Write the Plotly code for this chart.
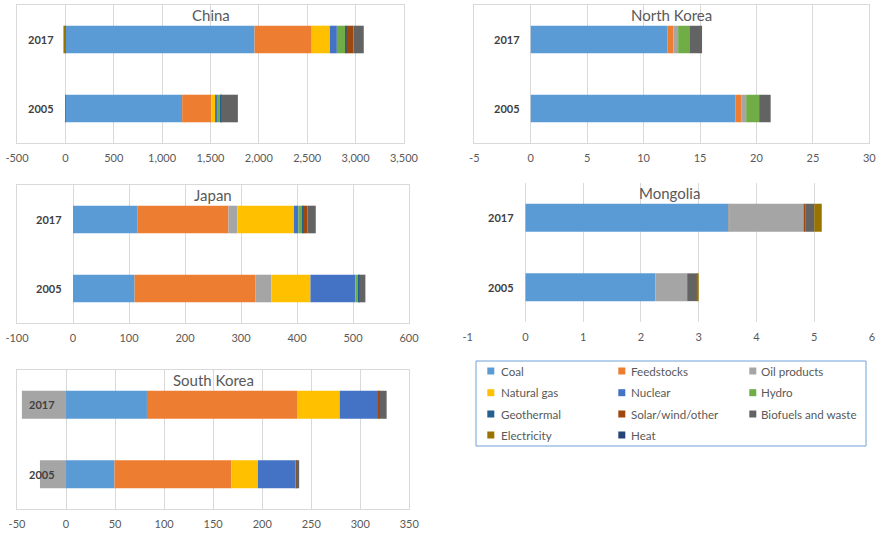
import plotly.graph_objects as go

# ---------------- data ----------------
YEARS = ["2005", "2017"]
SOURCES = ["Coal", "Feedstocks", "Oil products", "Natural gas", "Nuclear", "Hydro",
           "Geothermal", "Solar/wind/other", "Biofuels and waste", "Electricity", "Heat"]

CHINA_2005 = [1207, 301, 0, 42, 17, 40, 2, 3, 171, -3, 0]
CHINA_2017 = [1955, 591, 0, 188, 72, 93, 8, 71, 106, -20, 0]
NKOREA_2005 = [18.15, 0.5, 0.44, 0, 0, 1.15, 0, 0, 1.02, 0, 0]
NKOREA_2017 = [12.1, 0.55, 0.41, 0, 0, 1.0, 0, 0, 1.12, 0, 0]
JAPAN_2005 = [110, 216, 28, 70, 80.4, 6, 1.2, 0.5, 10, 0, 0]
JAPAN_2017 = [115.5, 162, 16, 101, 8, 8, 1, 7, 15, 0, 0]
MONGOLIA_2005 = [2.25, 0, 0.55, 0, 0, 0, 0, 0, 0.18, 0.01, 0]
MONGOLIA_2017 = [3.52, 0.01, 1.29, 0, 0, 0, 0, 0.03, 0.15, 0.13, 0]
SKOREA_2005 = [49.4, 119, -26.6, 27.3, 38.5, 0.3, 0, 0.5, 2.7, 0, 0]
SKOREA_2017 = [82.5, 153, -45, 43.6, 39, 0.3, 0, 1.5, 7, 0, 0]

CHINA_TICKS = [-500, 0, 500, 1000, 1500, 2000, 2500, 3000, 3500]
NKOREA_TICKS = [-5, 0, 5, 10, 15, 20, 25, 30]
JAPAN_TICKS = [-100, 0, 100, 200, 300, 400, 500, 600]
MONGOLIA_TICKS = [-1, 0, 1, 2, 3, 4, 5, 6]
SKOREA_TICKS = [-50, 0, 50, 100, 150, 200, 250, 300, 350]

# ---------------- styles ----------------
COLORS = ["#5B9BD5", "#ED7D31", "#A5A5A5", "#FFC000", "#4472C4", "#70AD47",
          "#255E91", "#9E480E", "#636363", "#997300", "#264478"]
W, H = 880, 533
FONT = "Lato"
GRID = "#D9D9D9"
TXT = "#595959"


def px(x):
    return x / W


def py(y):
    return 1 - y / H


# name, v2005, v2017, ticks, (x0,x1,ytop,ybottom) in pixels, framed
PANELS = [
    ("China", CHINA_2005, CHINA_2017, CHINA_TICKS, (17, 404, 5, 143), True),
    ("North Korea", NKOREA_2005, NKOREA_2017, NKOREA_TICKS, (474.3, 869.3, 5, 143), True),
    ("Japan", JAPAN_2005, JAPAN_2017, JAPAN_TICKS, (17, 409, 185, 323), True),
    ("Mongolia", MONGOLIA_2005, MONGOLIA_2017, MONGOLIA_TICKS, (467.7, 872, 183, 322), False),
    ("South Korea", SKOREA_2005, SKOREA_2017, SKOREA_TICKS, (17, 409.3, 370, 509), True),
]


def fmt(v):
    return f"{v:,}"


fig = go.Figure()
layout = dict(
    template="none",
    width=W, height=H, margin=dict(l=0, r=0, t=0, b=0, autoexpand=False),
    paper_bgcolor="white", plot_bgcolor="white",
    barmode="relative", bargap=0.6, showlegend=False,
    font=dict(family=FONT, color=TXT),
)
annotations = []
shapes = []

for i, (name, v05, v17, ticks, (x0, x1, yt, yb), framed) in enumerate(PANELS, start=1):
    sfx = "" if i == 1 else str(i)
    xa, ya = f"x{sfx}", f"y{sfx}"
    for j, src in enumerate(SOURCES):
        fig.add_trace(go.Bar(
            orientation="h", y=YEARS, x=[v05[j], v17[j]], name=src,
            marker=dict(color=COLORS[j], line=dict(width=0)),
            xaxis=xa, yaxis=ya, showlegend=False,
        ))
    layout[f"xaxis{sfx}"] = dict(
        domain=[px(x0), px(x1)], range=[ticks[0], ticks[-1]], anchor=ya,
        automargin=False,
        tickmode="array", tickvals=ticks, ticktext=[fmt(t) for t in ticks],
        showgrid=True, gridcolor=GRID, gridwidth=1, zeroline=False,
        showline=framed, mirror=framed, linecolor=GRID, linewidth=1,
        ticks="outside", ticklen=5, tickcolor="rgba(0,0,0,0)",
        tickfont=dict(family=FONT, size=11, color=TXT), fixedrange=True,
    )
    layout[f"yaxis{sfx}"] = dict(
        domain=[py(yb), py(yt)], anchor=xa, type="category", automargin=False,
        categoryorder="array", categoryarray=YEARS, range=[-0.5, len(YEARS) - 0.5],
        showticklabels=False, showgrid=False, zeroline=False,
        showline=framed, mirror=framed, linecolor=GRID, linewidth=1,
        ticks="", fixedrange=True,
    )
    for k, yr in enumerate(YEARS):
        annotations.append(dict(
            x=0, y=k, xref=xa, yref=ya, xanchor="right", yanchor="middle",
            xshift=-9, showarrow=False, text=f"<b>{yr}</b>",
            font=dict(family=FONT, size=11, color="#404040"),
        ))
    annotations.append(dict(
        x=0.5, y=1, xref=f"{xa} domain", yref=f"{ya} domain",
        xanchor="center", yanchor="top", yshift=1, showarrow=False, text=name,
        font=dict(family=FONT, size=15, color=TXT),
    ))

# ---------------- legend (manual, 3 columns) ----------------
shapes.append(dict(type="rect", xref="paper", yref="paper",
                   x0=px(476), x1=px(866), y0=py(446), y1=py(361),
                   line=dict(color="#6FA0D8", width=1), fillcolor="white", layer="below"))
col_marker = [487.3, 618.3, 749.3]
col_text = [499, 629, 759.3]
row_y = [371, 392.7, 414, 435]
for k, src in enumerate(SOURCES):
    r, c = divmod(k, 3)
    mx, ty = col_marker[c], row_y[r]
    shapes.append(dict(type="rect", xref="paper", yref="paper",
                       x0=px(mx), x1=px(mx + 7), y0=py(ty + 3.5), y1=py(ty - 3.5),
                       line=dict(width=0), fillcolor=COLORS[k]))
    annotations.append(dict(
        x=px(col_text[c]), y=py(ty), xref="paper", yref="paper",
        xanchor="left", yanchor="middle", showarrow=False, text=src,
        font=dict(family=FONT, size=11.6, color=TXT),
    ))

layout["annotations"] = annotations
layout["shapes"] = shapes
fig.update_layout(**layout)
fig.write_html("out.html")
